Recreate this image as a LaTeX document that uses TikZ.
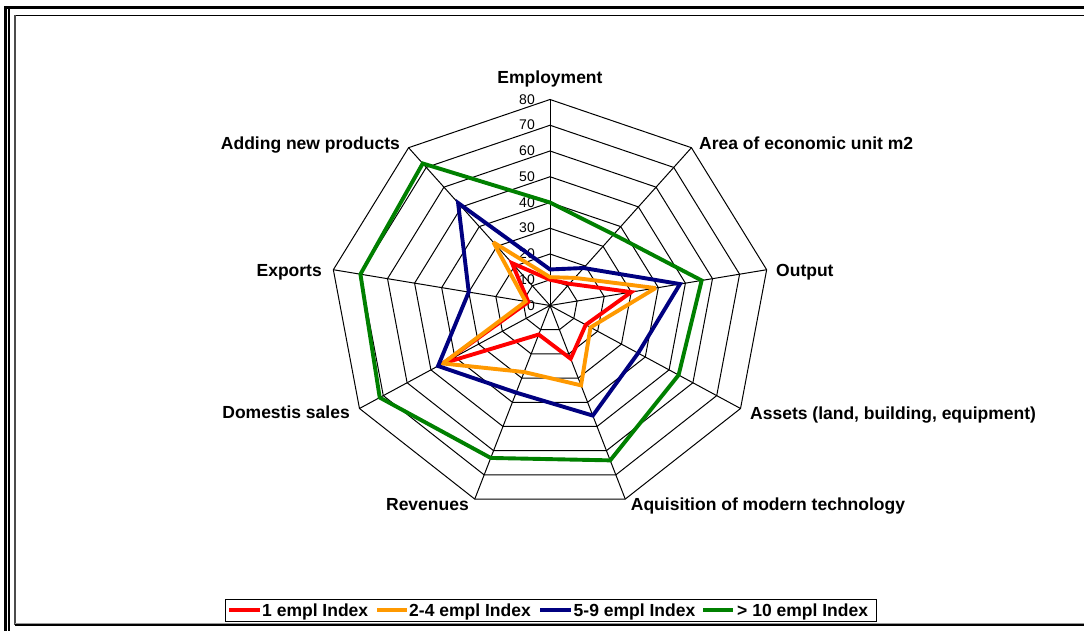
\documentclass[tikz,border=0pt]{standalone}
\usepackage{fontspec}
\setmainfont{Liberation Sans}
\definecolor{sred}{RGB}{255,0,0}
\definecolor{sorange}{RGB}{255,153,0}
\definecolor{sblue}{RGB}{0,0,128}
\definecolor{sgreen}{RGB}{0,128,0}
\begin{document}
\begin{tikzpicture}[x=1pt,y=-1pt,
  axlabel/.style={font=\fontsize{17.5}{20}\selectfont\bfseries, inner sep=0pt},
  scalelab/.style={font=\fontsize{14}{16}\selectfont, inner sep=0pt, anchor=base east},
  legtext/.style={font=\fontsize{17.5}{20}\selectfont\bfseries, inner sep=0pt, anchor=base west},
  gridline/.style={black, line width=1pt},
  series/.style={line width=3.9pt, line join=miter, miter limit=3},
  legline/.style={line width=3.9pt}]
\path[use as bounding box, fill=white] (0,0) rectangle (1084,631);
% frame
\draw[line width=3pt] (4.3,7.5) -- (1084,7.5);
\draw[line width=2.4pt] (5.5,6) -- (5.5,631);
\draw[line width=1.3pt] (9,9) -- (9,631);
\draw[line width=1pt] (14,15.2) -- (1084,15.2);
\draw[line width=1.7pt, black!70] (15,15) -- (15,625);
\draw[line width=1pt, black!40] (15,623.2) -- (1084,623.2);
\draw[line width=1.4pt] (15,624.8) -- (1084,624.8);
% grid
\begin{scope}[shift={(550,305.5)}, x=2.75pt, y=2.575pt]
  \foreach \r in {10,20,...,80}{
    \draw[gridline] (90:\r) \foreach \a in {50,10,-30,-70,-110,-150,170,130}{ -- (\a:\r) } -- cycle;
  }
  \coordinate (c) at (0,0);
  \foreach \a/\n in {90/emp,50/area,10/out,-30/ass,-70/aqu,-110/rev,-150/dom,170/exp,130/add}{
    \draw[gridline] (c) -- (\a:80) coordinate (ax\n);
  }
\end{scope}
% scale labels
\foreach \v in {0,10,...,80}{
  \node[scalelab] (s\v) at (535,{310.2-2.575*\v}) {\v};
}
% series
\begin{scope}[shift={(550,305.5)}, x=2.75pt, y=2.575pt]
  \draw[series, sred] (90:10) -- (50:11) -- (10:30) -- (-30:15) -- (-70:22) -- (-110:12) -- (-150:45) -- (170:8) -- (130:21.5) -- cycle;
  \draw[series, sorange] (90:11) -- (50:14) -- (10:39) -- (-30:17) -- (-70:33) -- (-110:27.5) -- (-150:45) -- (170:9) -- (130:32) -- cycle;
  \draw[series, sblue] (90:14) -- (50:19) -- (10:48) -- (-30:37) -- (-70:45.5) -- (-110:36) -- (-150:47) -- (170:30) -- (130:52) -- cycle;
  \draw[series, sgreen] (90:40) -- (50:36) -- (10:56) -- (-30:54) -- (-70:64) -- (-110:63) -- (-150:71.5) -- (170:70) -- (130:72) -- cycle;
\end{scope}
% axis labels
\node[axlabel, anchor=base] (lemp) at (550,84) {Employment};
\node[axlabel, anchor=base west] (larea) at (699,149.5) {Area of economic unit m2};
\node[axlabel, anchor=base west] (lout) at (776,276.5) {Output};
\node[axlabel, anchor=base west] (lass) at (750,419.3) {Assets (land, building, equipment)};
\node[axlabel, anchor=base west] (laqu) at (630.7,510.7) {Aquisition of modern technology};
\node[axlabel, anchor=base east] (lrev) at (469,510.7) {Revenues};
\node[axlabel, anchor=base east] (ldom) at (350,418.5) {Domestis sales};
\node[axlabel, anchor=base east] (lexp) at (322,276.5) {Exports};
\node[axlabel, anchor=base east] (ladd) at (400,149.5) {Adding new products};
% legend
\node[draw=black, line width=1pt, fill=white, minimum width=651pt, minimum height=22.5pt, inner sep=0pt, anchor=north west] (legend) at (225,598.5) {};
\coordinate (lr1) at (229,610); \coordinate (lr2) at (259.5,610);
\coordinate (lo1) at (377,610); \coordinate (lo2) at (406.5,610);
\coordinate (lb1) at (540,610); \coordinate (lb2) at (570.5,610);
\coordinate (lg1) at (703,610); \coordinate (lg2) at (733,610);
\draw[legline, sred] (lr1) -- (lr2);
\draw[legline, sorange] (lo1) -- (lo2);
\draw[legline, sblue] (lb1) -- (lb2);
\draw[legline, sgreen] (lg1) -- (lg2);
\node[legtext] (t1) at (262,616) {1 empl Index};
\node[legtext] (t2) at (409,616) {2-4 empl Index};
\node[legtext] (t3) at (573.5,616) {5-9 empl Index};
\node[legtext] (t4) at (737,616) {> 10 empl Index};
\end{tikzpicture}
\end{document}
